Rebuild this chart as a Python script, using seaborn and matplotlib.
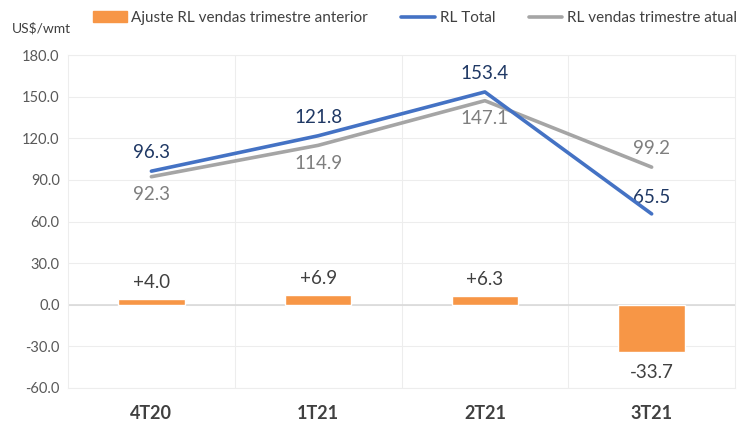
import matplotlib
matplotlib.use("Agg")
import matplotlib.pyplot as plt
import seaborn as sns
import pandas as pd
from matplotlib.patches import Patch
from matplotlib.lines import Line2D

categories = ["4T20", "1T21", "2T21", "3T21"]
ajuste = [4.0, 6.9, 6.3, -33.7]
rl_total = [96.3, 121.8, 153.4, 65.5]
rl_atual = [92.3, 114.9, 147.1, 99.2]
yticks = [-60, -30, 0, 30, 60, 90, 120, 150, 180]

ORANGE = "#F79646"
BLUE = "#4472C4"
GRAY = "#A5A5A5"

sns.set_theme(style="white")
plt.rcParams['font.family'] = ['Lato', 'DejaVu Sans']

df = pd.DataFrame({"cat": categories, "ajuste": ajuste, "total": rl_total, "atual": rl_atual})

fig = plt.figure(figsize=(7.45, 4.30), dpi=100)
ax = fig.add_axes([0.0913, 0.0977, 0.8953, 0.7743])

sns.barplot(data=df, x="cat", y="ajuste", color=ORANGE, width=0.4, ax=ax, saturation=1, zorder=3)
x = list(range(len(categories)))
sns.lineplot(x=x, y=rl_atual, color=GRAY, linewidth=2.6, ax=ax, zorder=4)
sns.lineplot(x=x, y=rl_total, color=BLUE, linewidth=2.6, ax=ax, zorder=5)

ax.set_ylim(-60, 180)
ax.set_xlim(-0.5, 3.5)
ax.set_yticks(yticks)
ax.set_yticklabels([f"{v:.1f}" for v in yticks], fontsize=10.5, color="#595959")
ax.set_xticks(x)
ax.set_xticklabels(categories, fontsize=13, fontweight="bold", color="#404040")
ax.tick_params(axis="both", length=0)
ax.tick_params(axis="x", pad=12)
ax.tick_params(axis="y", pad=6)
ax.set_xlabel("")
ax.set_ylabel("")

for s in ax.spines.values():
    s.set_color("#EDEDED")
    s.set_linewidth(0.8)

for yv in yticks:
    ax.axhline(yv, color="#EDEDED", linewidth=0.8, zorder=0)
ax.axhline(0, color="#D9D9D9", linewidth=1.2, zorder=1)
for xv in [0.5, 1.5, 2.5]:
    ax.axvline(xv, color="#EDEDED", linewidth=0.8, zorder=0)

fs = 13.5
for i, v in enumerate(ajuste):
    if v >= 0:
        ax.text(i, v + 6, f"+{v:.1f}", ha="center", va="bottom", fontsize=fs, color="#404040")
    else:
        ax.text(i, v - 9, f"{v:.1f}", ha="center", va="top", fontsize=fs, color="#404040")

navy = "#1F3864"
gtxt = "#7F7F7F"
for i in range(3):
    ax.text(i, rl_total[i] + 7, f"{rl_total[i]:.1f}", ha="center", va="bottom", fontsize=fs, color=navy)
    ax.text(i, rl_atual[i] - 7, f"{rl_atual[i]:.1f}", ha="center", va="top", fontsize=fs, color=gtxt)
ax.text(3, rl_atual[3] + 7, f"{rl_atual[3]:.1f}", ha="center", va="bottom", fontsize=fs, color=gtxt)
ax.text(3, rl_total[3] + 6, f"{rl_total[3]:.1f}", ha="center", va="bottom", fontsize=fs, color=navy)

fig.text(12 / 745, 1 - 28 / 430, "US$/wmt", fontsize=10, color="#404040", va="center", ha="left")

handles = [
    Patch(facecolor=ORANGE, edgecolor=ORANGE),
    Line2D([0], [0], color=BLUE, linewidth=2.6),
    Line2D([0], [0], color=GRAY, linewidth=2.6),
]
labels = ["Ajuste RL vendas trimestre anterior", "RL Total", "RL vendas trimestre atual"]
fig.legend(handles, labels, loc="center", bbox_to_anchor=(0.557, 1 - 18 / 430), ncol=3,
           frameon=False, fontsize=11, handlelength=2.2, handletextpad=0.3, columnspacing=2.2,
           labelcolor="#404040")

fig.savefig("out.png", dpi=100)
